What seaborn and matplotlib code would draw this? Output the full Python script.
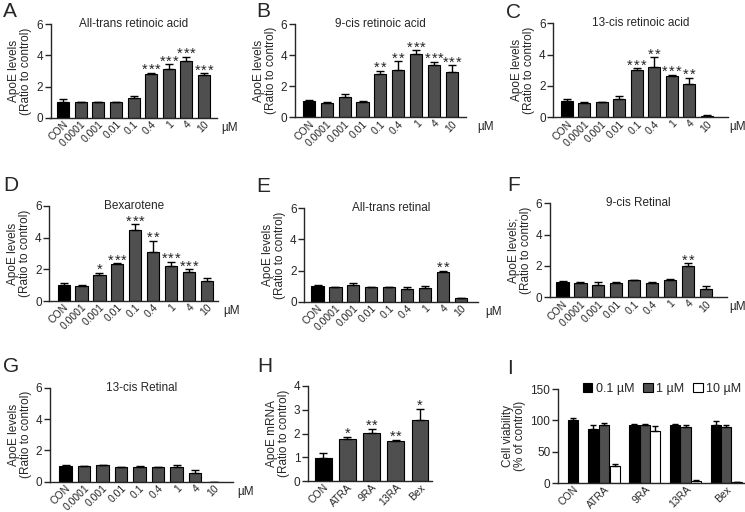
import numpy as np
import pandas as pd
import matplotlib
matplotlib.use("Agg")
import matplotlib.pyplot as plt
from matplotlib.patches import Patch
import seaborn as sns

# doses used in panels A-G
doses = ["CON", "0.0001", "0.001", "0.01", "0.1", "0.4", "1", "4", "10"]

# A - all-trans retinoic acid
atra_mean = [1.04, 1.0, 1.0, 1.0, 1.28, 2.78, 3.1, 3.64, 2.72]
atra_err = [0.15, 0.04, 0.03, 0.03, 0.1, 0.1, 0.32, 0.27, 0.13]
atra_sig = ["", "", "", "", "", "***", "***", "***", "***"]

# B - 9-cis retinoic acid
cis9_mean = [1.02, 0.95, 1.33, 1.0, 2.8, 3.02, 4.06, 3.37, 2.95]
cis9_err = [0.08, 0.03, 0.15, 0.07, 0.2, 0.6, 0.26, 0.2, 0.4]
cis9_sig = ["", "", "", "", "**", "**", "***", "***", "***"]

# C - 13-cis retinoic acid
cis13_mean = [1.02, 0.94, 0.95, 1.17, 3.02, 3.19, 2.66, 2.1, 0.1]
cis13_err = [0.14, 0.04, 0.02, 0.2, 0.1, 0.64, 0.05, 0.42, 0.06]
cis13_sig = ["", "", "", "", "***", "**", "***", "**", ""]

# D - bexarotene
bex_mean = [1.01, 0.95, 1.64, 2.32, 4.48, 3.12, 2.23, 1.85, 1.26]
bex_err = [0.1, 0.03, 0.15, 0.06, 0.36, 0.67, 0.25, 0.15, 0.17]
bex_sig = ["", "", "*", "***", "***", "**", "***", "***", ""]

# E - all-trans retinal
atral_mean = [1.0, 0.92, 1.07, 0.92, 0.92, 0.8, 0.86, 1.88, 0.22]
atral_err = [0.06, 0.05, 0.1, 0.03, 0.04, 0.15, 0.15, 0.12, 0.04]
atral_sig = ["", "", "", "", "", "", "", "**", ""]

# F - 9-cis retinal
cis9al_mean = [1.0, 0.92, 0.8, 0.94, 1.1, 0.94, 1.13, 2.0, 0.55]
cis9al_err = [0.05, 0.04, 0.15, 0.04, 0.03, 0.03, 0.04, 0.16, 0.16]
cis9al_sig = ["", "", "", "", "", "", "", "**", ""]

# G - 13-cis retinal
cis13al_mean = [1.02, 0.98, 1.04, 0.94, 0.94, 0.94, 0.94, 0.53, 0.0]
cis13al_err = [0.05, 0.03, 0.03, 0.03, 0.05, 0.02, 0.15, 0.2, 0.0]
cis13al_sig = ["", "", "", "", "", "", "", "", ""]

# H - ApoE mRNA
drugs = ["CON", "ATRA", "9RA", "13RA", "Bex"]
mrna_mean = [0.97, 1.76, 2.03, 1.7, 2.58]
mrna_err = [0.21, 0.09, 0.17, 0.04, 0.47]
mrna_sig = ["", "*", "**", "**", "*"]

# I - cell viability
conc_labels = ["0.1 µM", "1 µM", "10 µM"]
via_drug = ["CON", "ATRA", "ATRA", "ATRA", "9RA", "9RA", "9RA",
            "13RA", "13RA", "13RA", "Bex", "Bex", "Bex"]
via_conc = ["0.1 µM", "0.1 µM", "1 µM", "10 µM", "0.1 µM", "1 µM", "10 µM",
            "0.1 µM", "1 µM", "10 µM", "0.1 µM", "1 µM", "10 µM"]
via_mean = [100, 86.5, 92, 27, 92, 92, 83, 92, 89.5, 3, 92.5, 89.5, 0.8]
via_err = [4.3, 5.4, 3.2, 2.7, 2, 2, 7.5, 1.6, 2.7, 1, 6, 3, 0.3]

sns.set_style("ticks")
plt.rcParams["font.family"] = ["Liberation Sans", "DejaVu Sans"]
plt.rcParams["axes.linewidth"] = 1.0

BLACK = "#000000"
GREY = "#4f4f4f"
W, H = 745, 512

fig = plt.figure(figsize=(W / 100, H / 100), dpi=100)


def px_axes(left, right, top, bottom):
    return fig.add_axes([left / W, 1 - bottom / H, (right - left) / W, (bottom - top) / H])


def style_axes(ax, ymax, ystep, ylabel):
    sns.despine(ax=ax)
    ax.set_ylim(0, ymax)
    ax.set_yticks(np.arange(0, ymax + 0.001, ystep))
    ax.tick_params(axis="y", length=4, width=1, labelsize=8.5, pad=1.5)
    ax.tick_params(axis="x", length=0, labelsize=7.5, pad=1)
    plt.setp(ax.get_xticklabels(), rotation=45, ha="right", rotation_mode="anchor")
    ax.set_xlabel("")
    ax.set_ylabel(ylabel, fontsize=8.5, linespacing=1.0, labelpad=3)


def add_stars(ax, xs, tops, sig):
    # each asterisk placed on its own so the spacing matches the original
    for x, t, s in zip(xs, tops, sig):
        n = len(s)
        for j in range(n):
            ax.annotate("*", (x, t), xytext=((j - (n - 1) / 2) * 4.8, -0.8),
                        textcoords="offset points", ha="center", va="baseline",
                        fontsize=10.5)


def dose_panel(rect, xlim, means, errs, sig, title, ylabel, um_x):
    ax = px_axes(*rect)
    df = pd.DataFrame({"dose": doses, "value": means})
    sns.barplot(data=df, x="dose", y="value", hue="dose", legend=False,
                palette=[BLACK] + [GREY] * (len(doses) - 1), width=0.68,
                edgecolor="black", linewidth=0.8, errorbar=None, ax=ax)
    xs = np.arange(len(doses))
    ax.errorbar(xs, means, yerr=[np.zeros(len(errs)), errs], fmt="none",
                ecolor="black", elinewidth=1, capsize=3, capthick=1)
    add_stars(ax, xs, np.add(means, errs), sig)
    ax.set_xlim(*xlim)
    style_axes(ax, 6, 2, ylabel)
    ax.text(0.5, 1.0, title, transform=ax.transAxes, ha="center", va="center", fontsize=8.5)
    fig.text(um_x / W, 1 - (rect[3] + 10) / H, "µM", fontsize=8.5, va="center")
    return ax


apoe = "ApoE levels\n(Ratio to control)"
dose_panel((50.5, 216.7, 24.3, 117.7), (-0.72, 8.72), atra_mean, atra_err, atra_sig,
           "All-trans retinoic acid", apoe, 221)
dose_panel((295, 466, 24.3, 117.3), (-0.77, 8.78), cis9_mean, cis9_err, cis9_sig,
           "9-cis retinoic acid", apoe, 477)
dose_panel((553.3, 728.3, 23.3, 117.3), (-0.77, 9.23), cis13_mean, cis13_err, cis13_sig,
           "13-cis retinoic acid", apoe, 729)
dose_panel((49.3, 218.3, 206, 301), (-0.8, 8.64), bex_mean, bex_err, bex_sig,
           "Bexarotene", apoe, 223)
dose_panel((304.3, 478.3, 208.3, 301.7), (-0.74, 8.98), atral_mean, atral_err, atral_sig,
           "All-trans retinal", apoe, 485)
dose_panel((550, 726.7, 203.3, 297.3), (-0.7, 9.17), cis9al_mean, cis9al_err, cis9al_sig,
           "9-cis Retinal", "ApoE levels;\n(Ratio to control)", 729)
dose_panel((50, 233, 387.7, 481.7), (-0.84, 9.05), cis13al_mean, cis13al_err, cis13al_sig,
           "13-cis Retinal", apoe, 237)

# H - mRNA
axh = px_axes(308, 432, 386, 481)
dfh = pd.DataFrame({"drug": drugs, "value": mrna_mean})
sns.barplot(data=dfh, x="drug", y="value", hue="drug", legend=False,
            palette=[BLACK] + [GREY] * 4, width=0.69, edgecolor="black",
            linewidth=0.8, errorbar=None, ax=axh)
xh = np.arange(len(drugs))
axh.errorbar(xh, mrna_mean, yerr=[np.zeros(len(mrna_err)), mrna_err], fmt="none",
             ecolor="black", elinewidth=1, capsize=3, capthick=1)
add_stars(axh, xh, np.add(mrna_mean, mrna_err), mrna_sig)
axh.set_xlim(-0.63, 4.5)
style_axes(axh, 4, 1, "ApoE mRNA\n(Ratio to control)")

# I - viability, CON sits closer to ATRA than the other groups
axi = px_axes(558, 745, 389, 483)
centers = {"CON": 0.24, "ATRA": 1, "9RA": 2, "13RA": 3, "Bex": 4}
offsets = {"0.1 µM": -0.26, "1 µM": 0.0, "10 µM": 0.26}
pos = [round(centers[d] + (offsets[c] if d != "CON" else 0.0), 3)
       for d, c in zip(via_drug, via_conc)]
dfi = pd.DataFrame({"pos": pos, "conc": via_conc, "value": via_mean})
conc_colors = {"0.1 µM": BLACK, "1 µM": GREY, "10 µM": "white"}
sns.barplot(data=dfi, x="pos", y="value", hue="conc", hue_order=conc_labels,
            palette=conc_colors, native_scale=True, dodge=False, width=0.95,
            edgecolor="black", linewidth=0.8, errorbar=None, legend=False, ax=axi)
axi.errorbar(pos, via_mean, yerr=[np.zeros(len(via_err)), via_err], fmt="none",
             ecolor="black", elinewidth=1, capsize=2.5, capthick=1)
axi.set_xlim(-0.13, 4.46)
axi.set_xticks(list(centers.values()))
axi.set_xticklabels(list(centers.keys()))
style_axes(axi, 150, 50, "Cell viability\n(% of control)")
handles = [Patch(facecolor=conc_colors[c], edgecolor="black", linewidth=0.8, label=c)
           for c in conc_labels]
axi.legend(handles=handles, ncol=3, frameon=False, fontsize=9, loc="upper left",
           bbox_to_anchor=(583 / W, 1 - 383 / H), bbox_transform=fig.transFigure,
           borderpad=0, borderaxespad=0, handlelength=0.75, handleheight=0.75,
           handletextpad=0.3, columnspacing=0.7)

# panel letters
letters = {"A": (3, 2), "B": (256, 2), "C": (506, 3), "D": (3, 176), "E": (256, 177),
           "F": (507, 176), "G": (3, 357), "H": (257, 357), "I": (507, 359)}
for k, (x, y) in letters.items():
    fig.text(x / W, 1 - y / H, k, fontsize=15, va="top", ha="left")

fig.savefig("out.png", dpi=100)
